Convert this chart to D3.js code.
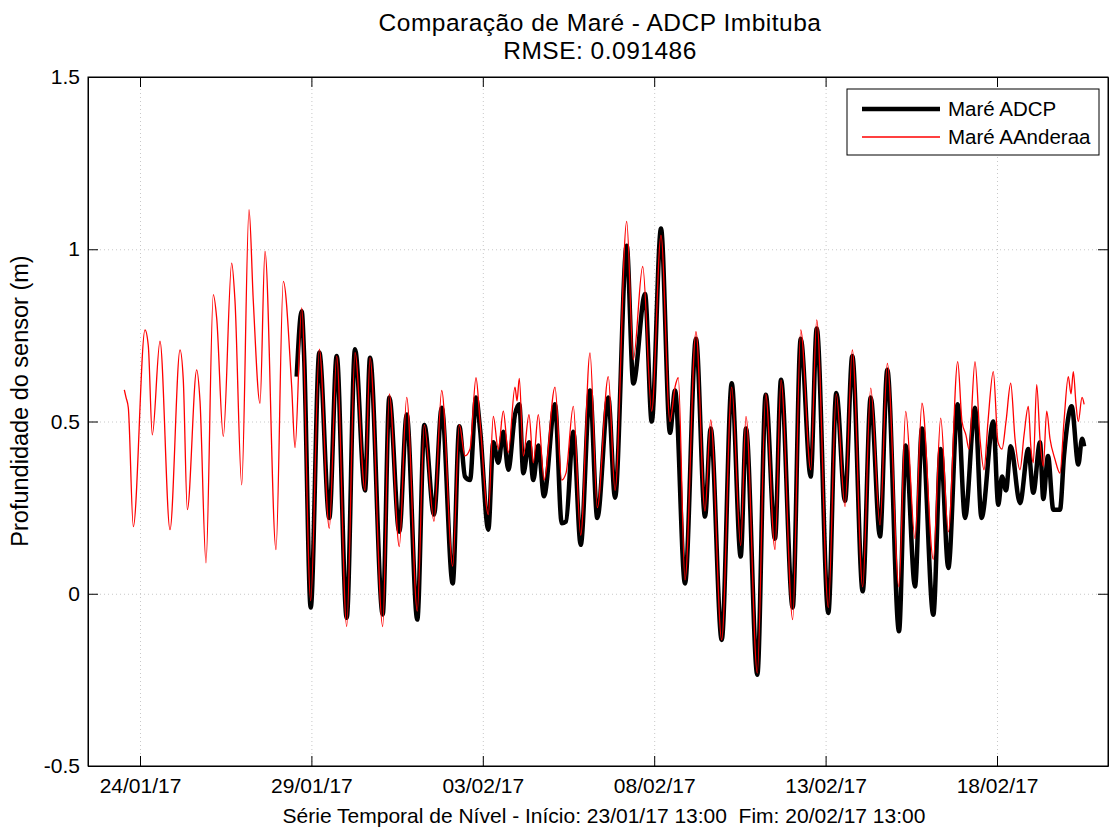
<!DOCTYPE html>
<html><head><meta charset="utf-8">
<script src="https://cdn.jsdelivr.net/npm/d3@7"></script>
<style>
html,body{margin:0;padding:0;background:#fff;}
svg{display:block;font-family:"Liberation Sans",Arial,sans-serif;}
text{white-space:pre;}
</style></head>
<body>
<svg id="chart" width="1110" height="830"></svg>
<script>
// ---- data (time in days since 24/01/17 00:00, value in metres) ----
const titleLines = ["Comparação de Maré - ADCP Imbituba", "RMSE: 0.091486"];
const xLabel = "Série Temporal de Nível - Início: 23/01/17 13:00  Fim: 20/02/17 13:00";
const yLabel = "Profundidade do sensor (m)";
const seriesNames = ["Maré ADCP", "Maré AAnderaa"];
const xTickDays = [0, 5, 10, 15, 20, 25];
const xTickLabels = ["24/01/17", "29/01/17", "03/02/17", "08/02/17", "13/02/17", "18/02/17"];
const yTicks = [-0.5, 0, 0.5, 1, 1.5];
const yTickLabels = ["-0.5", "0", "0.5", "1", "1.5"];
const xDomainDays = [-1.517, 28.238];

const redT = [-0.458,-0.408,-0.341,-0.195,0.146,0.242,0.359,0.583,0.875,1.167,1.263,1.380,1.654,1.750,1.925,2.138,2.237,2.430,2.675,2.771,2.967,3.180,3.305,3.501,3.646,3.967,4.180,4.425,4.522,4.717,4.980,5.231,5.522,5.738,6.030,6.272,6.564,6.710,7.080,7.273,7.564,7.780,8.089,8.294,8.576,8.801,9.122,9.315,9.481,9.627,9.802,9.918,10.161,10.306,10.452,10.598,10.744,10.939,10.998,11.065,11.182,11.348,11.473,11.619,11.785,12.106,12.302,12.427,12.640,12.856,13.127,13.340,13.661,13.857,14.198,14.391,14.665,14.927,15.198,15.461,15.607,15.703,15.898,16.219,16.482,16.648,16.969,17.261,17.523,17.678,18.008,18.253,18.524,18.699,19.040,19.274,19.565,19.741,20.079,20.312,20.566,20.779,21.082,21.316,21.587,21.800,22.141,22.337,22.608,22.812,23.142,23.358,23.580,23.854,23.979,24.096,24.183,24.358,24.504,24.621,24.737,24.892,25.029,25.146,25.263,25.400,25.525,25.671,25.788,25.913,25.992,26.059,26.158,26.254,26.350,26.450,26.546,26.692,26.837,26.954,27.080,27.159,27.226,27.305,27.372,27.480,27.542];
const redV = [0.592,0.57,0.54,0.195,0.766,0.72,0.461,0.733,0.186,0.708,0.62,0.244,0.650,0.56,0.09,0.868,0.80,0.457,0.96,0.85,0.316,1.115,0.85,0.553,0.994,0.128,0.907,0.60,0.424,0.83,-0.02,0.71,0.19,0.69,-0.095,0.70,0.30,0.685,-0.095,0.58,0.137,0.57,-0.05,0.49,0.21,0.59,0.08,0.49,0.40,0.42,0.627,0.50,0.23,0.515,0.42,0.53,0.41,0.60,0.56,0.625,0.40,0.52,0.38,0.52,0.33,0.60,0.33,0.35,0.544,0.17,0.699,0.25,0.63,0.30,1.081,0.68,0.95,0.53,1.04,0.50,0.60,0.627,0.04,0.761,0.24,0.505,-0.134,0.60,0.14,0.515,-0.23,0.58,0.128,0.62,-0.075,0.766,0.36,0.795,-0.04,0.58,0.253,0.708,0.02,0.597,0.20,0.669,0.02,0.529,0.16,0.553,0.10,0.51,0.18,0.674,0.50,0.46,0.42,0.674,0.45,0.36,0.50,0.645,0.44,0.42,0.50,0.611,0.45,0.36,0.46,0.544,0.42,0.38,0.607,0.45,0.37,0.53,0.45,0.39,0.35,0.50,0.63,0.58,0.645,0.55,0.50,0.57,0.55];

const blackT = [4.571,4.717,4.784,4.980,5.231,5.522,5.738,6.030,6.272,6.564,6.710,7.080,7.273,7.564,7.780,8.089,8.294,8.576,8.801,9.122,9.315,9.481,9.627,9.802,9.918,10.161,10.306,10.452,10.598,10.744,10.939,11.065,11.182,11.348,11.473,11.619,11.785,12.106,12.302,12.427,12.640,12.856,13.127,13.340,13.661,13.857,14.198,14.391,14.733,14.927,15.198,15.461,15.607,15.898,16.219,16.482,16.648,16.969,17.261,17.523,17.678,18.008,18.253,18.524,18.699,19.040,19.274,19.565,19.741,20.079,20.312,20.566,20.779,21.082,21.316,21.587,21.800,22.141,22.337,22.608,22.812,23.142,23.358,23.580,23.854,24.067,24.358,24.548,24.892,25.037,25.146,25.263,25.400,25.671,25.913,26.059,26.254,26.350,26.488,26.643,26.837,26.954,27.177,27.372,27.480,27.542];
const blackV = [0.63,0.82,0.70,-0.04,0.70,0.22,0.69,-0.07,0.71,0.30,0.685,-0.06,0.57,0.18,0.52,-0.075,0.49,0.23,0.54,0.03,0.486,0.34,0.33,0.57,0.48,0.186,0.44,0.38,0.47,0.36,0.52,0.55,0.35,0.44,0.33,0.43,0.283,0.55,0.205,0.21,0.47,0.142,0.59,0.22,0.57,0.279,1.01,0.61,0.87,0.50,1.06,0.467,0.59,0.03,0.74,0.224,0.48,-0.134,0.611,0.108,0.48,-0.235,0.578,0.16,0.621,-0.04,0.74,0.34,0.77,-0.056,0.583,0.27,0.69,0.007,0.57,0.166,0.65,-0.109,0.43,0.021,0.48,-0.061,0.42,0.075,0.55,0.22,0.54,0.22,0.50,0.258,0.34,0.30,0.428,0.263,0.42,0.293,0.44,0.275,0.40,0.244,0.244,0.40,0.544,0.375,0.45,0.428];

// ---- layout ----
const svg = d3.select("#chart");
const M = {left: 88, top: 77, right: 1108, bottom: 766};
const base = new Date(2017, 0, 24, 0, 0);
const dayToDate = d => new Date(base.getTime() + d * 86400000);

const x = d3.scaleTime().domain(xDomainDays.map(dayToDate)).range([M.left, M.right]);
const y = d3.scaleLinear().domain([-0.5, 1.5]).range([M.bottom, M.top]);

const g = svg.append("g");

// grid
const gridX = g.append("g").attr("transform", `translate(0,${M.bottom})`)
  .call(d3.axisBottom(x).tickValues(xTickDays.map(dayToDate)).tickSize(-(M.bottom - M.top)).tickFormat(""));
const gridY = g.append("g").attr("transform", `translate(${M.left},0)`)
  .call(d3.axisLeft(y).tickValues(yTicks).tickSize(-(M.right - M.left)).tickFormat(""));
[gridX, gridY].forEach(a => {
  a.select(".domain").remove();
  a.selectAll("line").attr("stroke", "#c8c8c8").attr("stroke-width", 1).attr("stroke-dasharray", "1,3");
});

// lines
const redData = redT.map((t, i) => ({t: dayToDate(t), v: redV[i]}));
const blackData = blackT.map((t, i) => ({t: dayToDate(t), v: blackV[i]}));
const line = d3.line().x(d => x(d.t)).y(d => y(d.v)).curve(d3.curveMonotoneX);

g.append("path").datum(blackData).attr("d", line)
  .attr("fill", "none").attr("stroke", "#000").attr("stroke-width", 4.5).attr("stroke-linejoin", "round");
g.append("path").datum(redData).attr("d", line)
  .attr("fill", "none").attr("stroke", "#ff0000").attr("stroke-width", 1.3).attr("stroke-linejoin", "round");

// axes with inward ticks, on all sides
const tick = 10;
const axB = g.append("g").attr("transform", `translate(0,${M.bottom})`)
  .call(d3.axisBottom(x).tickValues(xTickDays.map(dayToDate)).tickSizeInner(-tick).tickSizeOuter(0)
    .tickPadding(tick + 2).tickFormat((d, i) => xTickLabels[i]));
const axT = g.append("g").attr("transform", `translate(0,${M.top})`)
  .call(d3.axisTop(x).tickValues(xTickDays.map(dayToDate)).tickSizeInner(-tick).tickSizeOuter(0).tickFormat(""));
const axL = g.append("g").attr("transform", `translate(${M.left},0)`)
  .call(d3.axisLeft(y).tickValues(yTicks).tickSizeInner(-tick).tickSizeOuter(0)
    .tickPadding(8).tickFormat((d, i) => yTickLabels[i]));
const axR = g.append("g").attr("transform", `translate(${M.right},0)`)
  .call(d3.axisRight(y).tickValues(yTicks).tickSizeInner(-tick).tickSizeOuter(0).tickFormat(""));
[axB, axT, axL, axR].forEach(a => {
  a.select(".domain").attr("stroke", "#000").attr("stroke-width", 1);
  a.selectAll(".tick line").attr("stroke", "#000");
  a.selectAll("text").attr("font-size", 21).attr("fill", "#000")
    .attr("font-family", "'Liberation Sans', Arial, sans-serif");
});

// frame
g.append("rect").attr("x", M.left).attr("y", M.top).attr("width", M.right - M.left).attr("height", M.bottom - M.top)
  .attr("fill", "none").attr("stroke", "#000").attr("stroke-width", 1);

// titles
svg.append("text").attr("x", 600).attr("y", 31).attr("text-anchor", "middle")
  .attr("font-size", 24.5).attr("letter-spacing", 0.5).text(titleLines[0]);
svg.append("text").attr("x", 600).attr("y", 59).attr("text-anchor", "middle")
  .attr("font-size", 24.5).attr("letter-spacing", 0.5).text(titleLines[1]);

svg.append("text").attr("x", 604).attr("y", 823).attr("text-anchor", "middle")
  .attr("font-size", 21).text(xLabel);
svg.append("text").attr("transform", "translate(28,401) rotate(-90)").attr("text-anchor", "middle")
  .attr("font-size", 23.5).text(yLabel);

// legend
const lg = svg.append("g");
lg.append("rect").attr("x", 847).attr("y", 89).attr("width", 252).attr("height", 66)
  .attr("fill", "#fff").attr("stroke", "#000").attr("stroke-width", 1);
const legendColors = ["#000", "#ff0000"];
const legendWidths = [4.5, 1.3];
seriesNames.forEach((n, i) => {
  const yy = 109 + i * 28;
  lg.append("line").attr("x1", 862).attr("x2", 940).attr("y1", yy).attr("y2", yy)
    .attr("stroke", legendColors[i]).attr("stroke-width", legendWidths[i]);
  lg.append("text").attr("x", 948).attr("y", yy + 7).attr("font-size", 20.5).text(n);
});
</script>
</body></html>
